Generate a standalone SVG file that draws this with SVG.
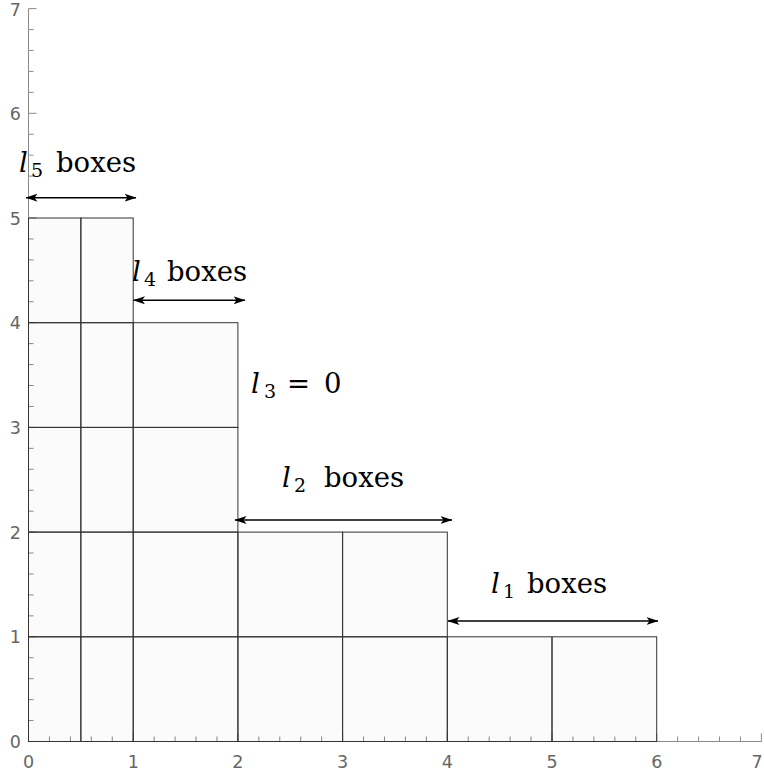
<svg xmlns="http://www.w3.org/2000/svg" width="764" height="774" viewBox="0 0 764 774">
  <style>
    .axis { stroke: #8a8a8a; stroke-width: 1; fill: none; }
    .tick { stroke: #8a8a8a; stroke-width: 1; fill: none; }
    .box { fill: #000; fill-opacity: 0.015; stroke: #333; stroke-width: 1; }
    .arrow { stroke: #000; stroke-width: 1.4; fill: none; }
  </style>
  <defs>
    <marker id="ah" viewBox="0 0 12 8" refX="11.5" refY="4" markerWidth="12" markerHeight="8" markerUnits="userSpaceOnUse" orient="auto-start-reverse">
      <path d="M0,0 L12,4 L0,8 L3,4 Z" fill="#000"/>
    </marker>
  </defs>
  <rect width="764" height="774" fill="#fff"/>

  <g id="axes">
    <path class="axis" d="M28.5,741.5 V8.6 M28.5,741.5 H761.4"/>
    <path class="tick" d="M28.5,741.5 v-8 M49.44,741.5 v-5 M70.38,741.5 v-5 M91.32,741.5 v-5 M112.26,741.5 v-5 M133.2,741.5 v-8 M154.14,741.5 v-5 M175.08,741.5 v-5 M196.02,741.5 v-5 M216.96,741.5 v-5 M237.9,741.5 v-8 M258.84,741.5 v-5 M279.78,741.5 v-5 M300.72,741.5 v-5 M321.66,741.5 v-5 M342.6,741.5 v-8 M363.54,741.5 v-5 M384.48,741.5 v-5 M405.42,741.5 v-5 M426.36,741.5 v-5 M447.3,741.5 v-8 M468.24,741.5 v-5 M489.18,741.5 v-5 M510.12,741.5 v-5 M531.06,741.5 v-5 M552,741.5 v-8 M572.94,741.5 v-5 M593.88,741.5 v-5 M614.82,741.5 v-5 M635.76,741.5 v-5 M656.7,741.5 v-8 M677.64,741.5 v-5 M698.58,741.5 v-5 M719.52,741.5 v-5 M740.46,741.5 v-5 M761.4,741.5 v-8"/>
    <path class="tick" d="M28.5,741.5 h8 M28.5,720.56 h5 M28.5,699.62 h5 M28.5,678.68 h5 M28.5,657.74 h5 M28.5,636.8 h8 M28.5,615.86 h5 M28.5,594.92 h5 M28.5,573.98 h5 M28.5,553.04 h5 M28.5,532.1 h8 M28.5,511.16 h5 M28.5,490.22 h5 M28.5,469.28 h5 M28.5,448.34 h5 M28.5,427.4 h8 M28.5,406.46 h5 M28.5,385.52 h5 M28.5,364.58 h5 M28.5,343.64 h5 M28.5,322.7 h8 M28.5,301.76 h5 M28.5,280.82 h5 M28.5,259.88 h5 M28.5,238.94 h5 M28.5,218 h8 M28.5,197.06 h5 M28.5,176.12 h5 M28.5,155.18 h5 M28.5,134.24 h5 M28.5,113.3 h8 M28.5,92.36 h5 M28.5,71.42 h5 M28.5,50.48 h5 M28.5,29.54 h5 M28.5,8.6 h8"/>
    <g font-family="'DejaVu Sans', sans-serif" font-size="17.5" fill="#666" text-anchor="middle">
      <text x="28.5" y="768">0</text>
      <text x="133.2" y="768">1</text>
      <text x="237.9" y="768">2</text>
      <text x="342.6" y="768">3</text>
      <text x="447.3" y="768">4</text>
      <text x="552" y="768">5</text>
      <text x="656.7" y="768">6</text>
      <text x="757" y="768">7</text>
    </g>
    <g font-family="'DejaVu Sans', sans-serif" font-size="17.5" fill="#666" text-anchor="end">
      <text x="21" y="748">0</text>
      <text x="21" y="643.3">1</text>
      <text x="21" y="538.6">2</text>
      <text x="21" y="433.9">3</text>
      <text x="21" y="329.2">4</text>
      <text x="21" y="224.5">5</text>
      <text x="21" y="119.8">6</text>
      <text x="21" y="15.6">7</text>
    </g>
  </g>

  <g id="row0">
    <rect id="b0a" class="box" x="28.5" y="636.8" width="52.35" height="104.7"/>
    <rect id="b0b" class="box" x="80.85" y="636.8" width="52.35" height="104.7"/>
    <rect id="b0c" class="box" x="133.2" y="636.8" width="104.7" height="104.7"/>
    <rect id="b0d" class="box" x="237.9" y="636.8" width="104.7" height="104.7"/>
    <rect id="b0e" class="box" x="342.6" y="636.8" width="104.7" height="104.7"/>
    <rect id="b0f" class="box" x="447.3" y="636.8" width="104.7" height="104.7"/>
    <rect id="b0g" class="box" x="552" y="636.8" width="104.7" height="104.7"/>
  </g>
  <g id="row1">
    <rect id="b1a" class="box" x="28.5" y="532.1" width="52.35" height="104.7"/>
    <rect id="b1b" class="box" x="80.85" y="532.1" width="52.35" height="104.7"/>
    <rect id="b1c" class="box" x="133.2" y="532.1" width="104.7" height="104.7"/>
    <rect id="b1d" class="box" x="237.9" y="532.1" width="104.7" height="104.7"/>
    <rect id="b1e" class="box" x="342.6" y="532.1" width="104.7" height="104.7"/>
  </g>
  <g id="row2">
    <rect id="b2a" class="box" x="28.5" y="427.4" width="52.35" height="104.7"/>
    <rect id="b2b" class="box" x="80.85" y="427.4" width="52.35" height="104.7"/>
    <rect id="b2c" class="box" x="133.2" y="427.4" width="104.7" height="104.7"/>
  </g>
  <g id="row3">
    <rect id="b3a" class="box" x="28.5" y="322.7" width="52.35" height="104.7"/>
    <rect id="b3b" class="box" x="80.85" y="322.7" width="52.35" height="104.7"/>
    <rect id="b3c" class="box" x="133.2" y="322.7" width="104.7" height="104.7"/>
  </g>
  <g id="row4">
    <rect id="b4a" class="box" x="28.5" y="218" width="52.35" height="104.7"/>
    <rect id="b4b" class="box" x="80.85" y="218" width="52.35" height="104.7"/>
  </g>

  <g id="connectors">
    <line class="arrow" x1="26" y1="197.7" x2="136" y2="197.7" marker-start="url(#ah)" marker-end="url(#ah)"/>
    <line class="arrow" x1="133.5" y1="300.3" x2="245" y2="300.3" marker-start="url(#ah)" marker-end="url(#ah)"/>
    <line class="arrow" x1="235" y1="520" x2="452" y2="520" marker-start="url(#ah)" marker-end="url(#ah)"/>
    <line class="arrow" x1="448" y1="621" x2="658" y2="621" marker-start="url(#ah)" marker-end="url(#ah)"/>
  </g>

  <g id="labels" font-family="'DejaVu Serif', serif" font-size="27.5" fill="#000">
    <text id="l5" y="172"><tspan font-style="italic" x="19">l</tspan><tspan font-size="19" x="31" dy="5">5</tspan><tspan x="56" dy="-5">boxes</tspan></text>
    <text id="l4" y="281"><tspan font-style="italic" x="132">l</tspan><tspan font-size="19" x="144" dy="5">4</tspan><tspan x="167" dy="-5">boxes</tspan></text>
    <text id="l3" y="393"><tspan font-style="italic" x="251">l</tspan><tspan font-size="19" x="264" dy="5">3</tspan><tspan x="287" dy="-5">=</tspan><tspan x="324">0</tspan></text>
    <text id="l2" y="487"><tspan font-style="italic" x="282">l</tspan><tspan font-size="19" x="294" dy="5">2</tspan><tspan x="324" dy="-5">boxes</tspan></text>
    <text id="l1" y="593"><tspan font-style="italic" x="491">l</tspan><tspan font-size="19" x="503" dy="5">1</tspan><tspan x="527" dy="-5">boxes</tspan></text>
  </g>
</svg>
